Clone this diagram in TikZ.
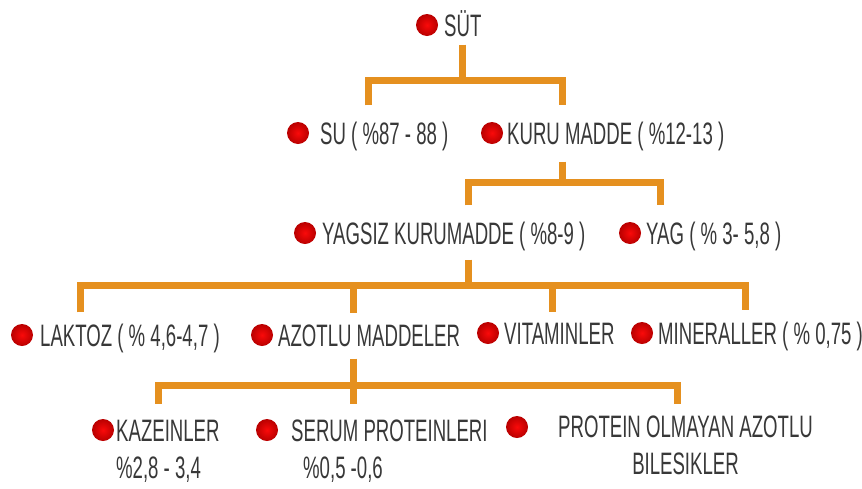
\documentclass[tikz,border=0pt]{standalone}
\usepackage{fontspec}
\setmainfont{Liberation Sans}
\usepackage{graphicx}
\definecolor{busorange}{HTML}{E5901F}
\definecolor{txtgray}{HTML}{383838}
\newcommand{\nar}[1]{\scalebox{0.6}[1]{#1}}
\newcommand{\twoline}[3]{\scalebox{0.6}[1]{\begin{tabular}[t]{@{}#1@{}}#2\\#3\end{tabular}}}

\begin{document}
\begin{tikzpicture}[x=1pt,y=-1pt,
    dot/.style={circle,minimum size=22pt,inner sep=0pt,inner color={rgb,255:red,250;green,10;blue,10},outer color={rgb,255:red,185;green,0;blue,0}},
    lbl/.style={anchor=base west,inner sep=0pt,text=txtgray,font=\fontsize{31}{37}\selectfont},
    bus/.style={draw=busorange,line width=7pt}]
  \fill[white] (0,0) rectangle (862,488);
  \useasboundingbox (0,0) rectangle (862,488);

  % top
  \node[dot] (sutdot) at (427,25) {};
  \node[lbl] (sut) at (444,36) {\nar{SÜT}};

  % su / kuru madde
  \node[dot] (sudot) at (298,133) {};
  \node[lbl] (su) at (320,144) {\nar{SU ( \%87 - 88 )}};
  \node[dot] (kurudot) at (492,133) {};
  \node[lbl] (kuru) at (507,144) {\nar{KURU MADDE ( \%12-13 )}};

  % yagsiz kurumadde / yag
  \node[dot] (yagsizdot) at (305,233) {};
  \node[lbl] (yagsiz) at (322,244) {\nar{YAGSIZ KURUMADDE ( \%8-9 )}};
  \node[dot] (yagdot) at (630,233) {};
  \node[lbl] (yag) at (646,244) {\nar{YAG ( \% 3- 5,8 )}};

  % fourth row
  \node[dot] (laktozdot) at (22,335) {};
  \node[lbl] (laktoz) at (40,346) {\nar{LAKTOZ ( \% 4,6-4,7 )}};
  \node[dot] (azotludot) at (262,335) {};
  \node[lbl] (azotlu) at (278,346) {\nar{AZOTLU MADDELER}};
  \node[dot] (vitamindot) at (488,333) {};
  \node[lbl] (vitamin) at (504,344) {\nar{VITAMINLER}};
  \node[dot] (mineraldot) at (642,333) {};
  \node[lbl] (mineral) at (658,344) {\nar{MINERALLER ( \% 0,75 )}};

  % proteins
  \node[dot] (kazeindot) at (103,430) {};
  \node[lbl] (kazein) at (116,441) {\twoline{l}{KAZEINLER}{\%2,8 - 3,4}};
  \node[dot] (serumdot) at (267,430) {};
  \node[lbl] (serum) at (291,441) {\twoline{l}{SERUM PROTEINLERI}{\hspace{20pt}\%0,5 -0,6}};
  \node[dot] (proteindot) at (517,427) {};
  \node[lbl] (protein) at (558,437) {\twoline{c}{PROTEIN OLMAYAN AZOTLU}{BILESIKLER}};

  % bus corners
  \coordinate (b11) at (368,80);
  \coordinate (b12) at (562,80);
  \coordinate (b21) at (468,182);
  \coordinate (b22) at (660,182);
  \coordinate (b31) at (80,285);
  \coordinate (b32) at (353,285);
  \coordinate (b33) at (552,285);
  \coordinate (b34) at (745,285);
  \coordinate (b41) at (158,385);
  \coordinate (b42) at (677,385);

  \draw[bus,shorten <=8pt] (sut.south) -- (sut.south |- b11);
  \draw[bus,shorten <=16pt,shorten >=16pt] (b11 |- su.north) -- (b11) -- (b12) -- (b12 |- kuru.north);
  \draw[bus,shorten <=11pt] (b12 |- kuru.south) -- (b12 |- b21);
  \draw[bus,shorten <=16pt,shorten >=16pt] (b21 |- yagsiz.north) -- (b21) -- (b22) -- (b22 |- yag.north);
  \draw[bus,shorten <=9pt] (b21 |- yagsiz.south) -- (b21 |- b31);
  \draw[bus,shorten <=11pt,shorten >=11pt] (b31 |- laktoz.north) -- (b31) -- (b34) -- (b34 |- mineral.north);
  \draw[bus,shorten >=11pt] (b32) -- (b32 |- azotlu.north);
  \draw[bus,shorten >=10pt] (b33) -- (b33 |- vitamin.north);
  \draw[bus,shorten <=12pt,shorten >=11pt] (b32 |- azotlu.south) -- (b32 |- serum.north);
  \draw[bus,shorten <=11pt,shorten >=7pt] (b41 |- kazein.north) -- (b41) -- (b42) -- (b42 |- protein.north);
\end{tikzpicture}
\end{document}
